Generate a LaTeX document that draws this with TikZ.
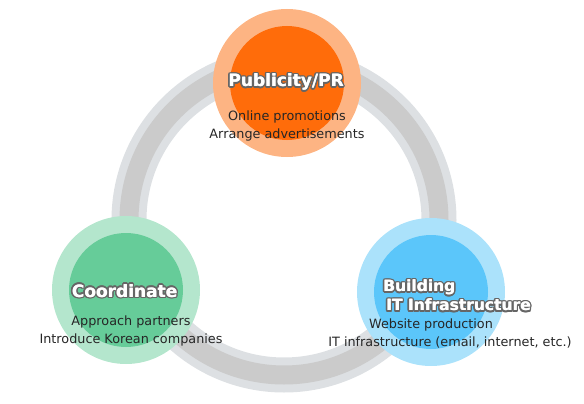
\documentclass[tikz,border=0pt]{standalone}
\usepackage{fontspec}
\setmainfont{DejaVu Sans}
\definecolor{ringlight}{HTML}{DDE0E3}
\definecolor{ringdark}{HTML}{CBCBCB}
\definecolor{orout}{HTML}{FDB483}
\definecolor{orin}{HTML}{FF6C0A}
\definecolor{grout}{HTML}{B4E6CD}
\definecolor{grin}{HTML}{66CC99}
\definecolor{blout}{HTML}{ABE2FB}
\definecolor{blin}{HTML}{5BC6FA}
\definecolor{olc}{HTML}{666666}
\definecolor{bodytext}{HTML}{262626}
\newcommand\otext[1]{%
  \leavevmode
  \foreach \a in {0,22.5,...,337.5}{%
    \pgfmathsetmacro\dx{1.6*cos(\a)}%
    \pgfmathsetmacro\dy{1.6*sin(\a)}%
    \rlap{\hspace*{\dx pt}\raisebox{\dy pt}{\color{olc}#1}}%
  }%
  \rlap{\hspace*{0.35pt}\color{white}#1}%
  {\color{white}#1}%
}
\tikzset{
  outerc/.style={circle, minimum size=148pt, inner sep=0pt},
  innerc/.style={circle, minimum size=114pt, inner sep=0pt},
  titletext/.style={font=\fontsize{17}{17}\selectfont\bfseries, inner sep=0pt},
  bodytxt/.style={font=\fontsize{12.8}{18.5}\selectfont, text=bodytext, align=center, inner sep=0pt},
}
\begin{document}
\begin{tikzpicture}[x=1pt,y=-1pt]
\useasboundingbox (0,0) rectangle (584,404);
% ring
\draw[line width=35pt, ringlight] (284,220) circle[radius=155pt];
\draw[line width=19pt, ringdark] (284,220) circle[radius=155pt];
% circles
\node[outerc, fill=orout] (pub) at (287,83) {};
\node[innerc, fill=orin] (pubin) at (pub) {};
\node[outerc, fill=grout] (coo) at (126,290) {};
\node[innerc, fill=grin] (cooin) at (coo) {};
\node[outerc, fill=blout] (bit) at (431,292) {};
\node[innerc, fill=blin] (bitin) at (bit) {};
% titles
\node[titletext] (pubt) at (286,82) {\otext{Publicity/PR}};
\node[titletext] (coot) at (124.5,291) {\otext{Coordinate}};
\node[titletext, align=left, anchor=west, font=\fontsize{15.5}{17}\selectfont\bfseries] (bitt) at (383,295.5) {\otext{Building}\\\hspace*{3pt}\otext{IT Infrastructure}};
% bodies
\node[bodytxt] (pubb) at (287,126) {Online promotions\\Arrange advertisements};
\node[bodytxt] (coob) at (131,331) {Approach partners\\Introduce Korean companies};
\node[bodytxt] (bitb) at (450,333.5) {Website production\hspace*{38pt}\\IT infrastructure (email, internet, etc.)};
\end{tikzpicture}
\end{document}
